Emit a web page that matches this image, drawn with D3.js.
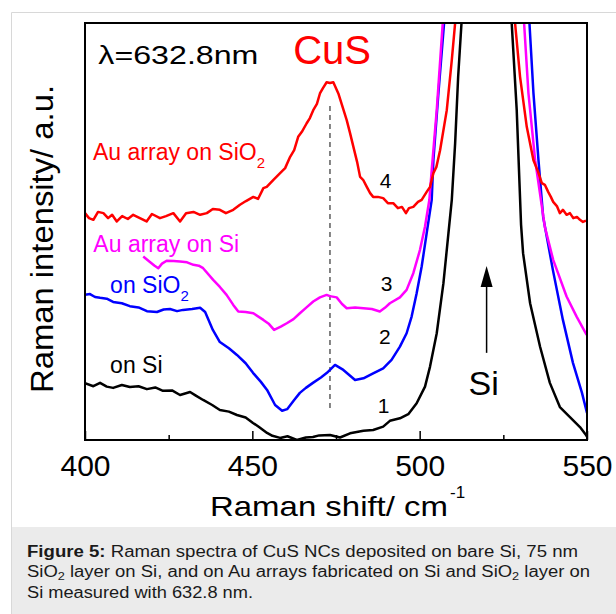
<!DOCTYPE html>
<html>
<meta charset="utf-8">
<script src="https://d3js.org/d3.v7.min.js"></script>
<style>
  body { margin: 0; background: #fff; }
  svg text { font-family: "Liberation Sans", Arial, sans-serif; }
</style>
<body>
<div id="chart"></div>
<script>

// Raman shift (cm-1) / intensity (a.u.)
var onSi = [[400,13.6],[402.5,12.9],[404.5,13.7],[406.5,12.8],[408.4,12.5],[411,13.2],[413.4,12.7],[416,12.9],[418.5,12.2],[421,12.6],[423.3,11.8],[426,11.9],[428.4,10.8],[431.4,11.5],[433,10.7],[435.3,9.6],[438,8.4],[440.3,7.2],[443,6.8],[445.4,6.0],[448,5.4],[450.2,4.1],[452,3.1],[454.4,1.7],[456,1.0],[458.3,0.5],[460.5,0.9],[463.3,0.0],[466,0.6],[468.1,0.7],[470,1.1],[473.2,1.2],[476.2,0.6],[479.2,1.6],[483.2,2.2],[486.1,2.4],[489.1,3.2],[491.1,4.6],[494.1,5.2],[496.6,6.2],[499.1,8.8],[501.6,12.8],[503.1,17.6],[505.1,25.6],[507.1,37.6],[508.6,49.6],[509.6,57.6],[510.6,71.2],[511.5,87.1],[512.5,100],[520,400],[527.5,100],[529.0,79.1],[530.3,51.6],[530.9,44.8],[533.0,32.8],[536.0,22.3],[538.9,13.7],[541.9,7.9],[544.9,5.5],[547.9,3.1],[549.7,1.2],[550,0.8]];

var onSiO2 = [[400,34.8],[401.5,35.0],[403,34.3],[404.5,34.1],[406.5,33.9],[408.4,33.1],[411,32.8],[413.4,32.1],[416,31.8],[418.5,30.9],[421.5,30.7],[423.5,31.3],[425.4,31.4],[427.5,30.9],[429.3,31.2],[432,31.4],[434.4,31.7],[435.9,30.7],[438.2,26.4],[440.3,23.5],[443,22.0],[445.4,20.4],[448,18.4],[450.2,16.1],[452.5,14.0],[454.4,12.0],[456.8,8.4],[458.9,7.0],[460.4,7.4],[462.5,9.6],[464.2,11.3],[466,12.5],[468.1,13.7],[470.5,15.0],[472.3,16.1],[474.7,18.0],[477.2,16.8],[480.7,14.4],[483.2,14.8],[486.1,16.0],[489.1,17.2],[491.6,19.2],[494.1,22.4],[496.1,25.6],[497.6,29.6],[499.1,35.2],[500.6,41.6],[502.1,49.6],[503.6,57.6],[504.1,67.1],[505.6,83.2],[507.3,100],[520,400],[532.8,100],[534.0,83.2],[535.5,67.1],[536.9,53.5],[539.8,40.8],[542.8,28.8],[545.8,18.5],[548.5,11.3],[550,6.5]];

var auOnSi = [[417.4,44.0],[419.4,42.7],[420.8,41.8],[421.9,41.2],[423,42.3],[424.4,43.0],[426.5,42.9],[428.4,42.8],[430.5,42.6],[432.4,42.0],[434,41.8],[435.3,41.2],[438.3,38.4],[440.3,36.7],[442.3,34.8],[444.3,32.4],[445.8,30.8],[448,30.7],[450.3,30.4],[453.3,28.8],[455,27.8],[456.5,26.4],[458.5,27.2],[460.3,28.0],[462.3,29.0],[464.2,30.4],[466.2,31.8],[468.2,33.2],[470.2,34.2],[472.2,34.8],[473.2,34.5],[475.2,34.2],[476.8,32.6],[478.2,31.6],[480.7,31.8],[483.2,31.6],[485.7,31.4],[488.1,30.8],[489.6,31.7],[491.1,32.8],[494.1,34.2],[496.1,36.0],[498.1,40.0],[500.1,45.6],[501.6,51.2],[502.9,57.6],[503.6,64.7],[505.1,79.1],[506.9,100],[520,400],[531.2,100],[532.5,83.2],[534.5,67.1],[537.4,51.1],[539.9,43.2],[543.9,34.4],[546.9,29.6],[549.9,25.2]];

var auOnSiO2 = [[400,54.4],[401.2,53.2],[402.5,52.8],[403.9,54.7],[405.5,54.4],[406.9,53.2],[408.1,54.0],[409.5,52.4],[411.1,53.7],[412.8,53.0],[414.4,54.0],[416.4,53.2],[418.4,52.4],[420.0,54.2],[422.4,53.2],[424.2,53.7],[426.4,54.4],[428.4,52.4],[430.2,54.4],[432.4,54.7],[434.4,54.0],[436.4,54.4],[438.2,55.4],[440.3,55.2],[442.1,54.4],[444.3,55.2],[446.3,56.4],[448.1,57.3],[450.3,58.3],[451.7,57.8],[453.3,60.4],[454.3,60.7],[456.3,62.4],[458.3,64.0],[459.8,65.2],[461.3,67.9],[462.5,69.5],[463.7,72.7],[464.8,73.9],[466.2,75.9],[467.2,77.2],[468.2,79.1],[469.3,80.6],[470.2,83.1],[471.1,84.4],[472.2,85.8],[473.2,85.6],[474.2,85.8],[475.7,83.1],[476.8,80.3],[478.2,76.7],[479.2,73.6],[480.2,70.3],[481.3,66.7],[482.2,63.1],[483.1,62.4],[484.2,60.7],[485.2,59.2],[486.1,58.3],[487.5,58.3],[489.1,58.0],[490.5,56.8],[492.1,56.8],[493.5,55.6],[494.7,55.9],[495.9,54.4],[496.8,55.6],[498.1,55.9],[499.5,57.1],[500.6,57.6],[502.1,59.5],[503.1,60.7],[504.1,64.0],[505.0,65.5],[506.1,69.5],[508.1,79.1],[509.6,91.1],[510.6,100],[520,400],[528.5,100],[530.0,87.1],[532.0,75.1],[534.0,67.1],[535.4,64.3],[536.5,61.6],[537.4,61.2],[538.4,59.5],[539.2,58.3],[539.9,57.1],[541.0,56.1],[541.9,54.4],[542.8,55.2],[543.9,54.0],[544.9,54.4],[545.9,53.2],[547.0,53.5],[547.9,52.8],[548.8,52.3],[549.7,52.6]];

var majorTicks = [400, 450, 500, 550];
var minorTicks = [425, 475, 525];
var curveNumbers = ["1", "2", "3", "4"];
var cusPeak = 473.2;   // dashed marker
var siPeak = 520;      // arrow

var W = 616, H = 614;
var margin = {top: 23, right: 29, bottom: 174, left: 85},
    width = W - margin.left - margin.right,
    height = H - margin.top - margin.bottom;

var svg = d3.select("#chart").append("svg")
    .attr("width", W)
    .attr("height", H);

// page frame + caption panel
svg.append("rect")
    .attr("x", 11).attr("y", 527)
    .attr("width", W - 11).attr("height", H - 527)
    .attr("fill", "#ebebeb");
svg.append("path")
    .attr("d", "M11.5," + H + "V12.5H" + W)
    .attr("fill", "none")
    .attr("stroke", "#d8d8d8");

var g = svg.append("g")
    .attr("transform", "translate(" + margin.left + "," + margin.top + ")");

var x = d3.scaleLinear().domain([400, 550]).range([0, width]);
var y = d3.scaleLinear().domain([0, 100]).range([height, 0]);

g.append("clipPath").attr("id", "plotClip")
  .append("rect").attr("width", width).attr("height", height);

var line = d3.line()
    .x(function(d) { return x(d[0]); })
    .y(function(d) { return y(d[1]); });

var series = [
  {data: onSi, color: "#000000"},
  {data: onSiO2, color: "#0000ff"},
  {data: auOnSi, color: "#ff00ff"},
  {data: auOnSiO2, color: "#ff0000"}
];

// dashed CuS peak marker
g.append("line")
    .attr("x1", x(cusPeak)).attr("x2", x(cusPeak))
    .attr("y1", y(7.7)).attr("y2", y(80.8))
    .attr("stroke", "#333")
    .attr("stroke-width", 1.2)
    .attr("stroke-dasharray", "5,4");

g.append("g").attr("clip-path", "url(#plotClip)")
  .selectAll("path")
  .data(series)
  .enter()
  .append("path")
    .attr("d", function(d) { return line(d.data); })
    .attr("fill", "none")
    .attr("stroke", function(d) { return d.color; })
    .attr("stroke-width", 2.5)
    .attr("stroke-linejoin", "round");

// axes: ticks pointing inward
var xAxis = g.append("g")
    .attr("transform", "translate(0," + height + ")")
    .call(d3.axisBottom(x).tickValues(majorTicks).tickSizeInner(-9).tickSizeOuter(0).tickPadding(15).tickFormat(d3.format("d")));
xAxis.select(".domain").remove();
xAxis.selectAll("line").attr("stroke-width", 1.5);
xAxis.selectAll("text")
    .attr("font-size", "30px")
    .attr("fill", "#000")
    .style("font-family", "'Liberation Sans', Arial, sans-serif");

var xMinor = g.append("g")
    .attr("transform", "translate(0," + height + ")")
    .call(d3.axisBottom(x).tickValues(minorTicks).tickSizeInner(-5).tickSizeOuter(0).tickFormat(""));
xMinor.select(".domain").remove();
xMinor.selectAll("line").attr("stroke-width", 1.5);

// plot frame
g.append("rect")
    .attr("width", width).attr("height", height)
    .attr("fill", "none")
    .attr("stroke", "#000")
    .attr("stroke-width", 2);

// annotations
g.append("text")
    .attr("x", x(404)).attr("y", y(90.1))
    .attr("font-size", "25px")
    .attr("textLength", 160).attr("lengthAdjust", "spacingAndGlyphs")
    .text("λ=632.8nm");

g.append("text")
    .attr("x", x(462.2)).attr("y", y(90.1))
    .attr("font-size", "40px")
    .attr("fill", "#ff0000")
    .text("CuS");

var t1 = g.append("text")
    .attr("x", x(402.4)).attr("y", y(67.1))
    .attr("font-size", "23px")
    .attr("fill", "#ff0000");
t1.append("tspan").text("Au array on SiO");
t1.append("tspan").attr("dy", 8).attr("font-size", "15px").text("2");

g.append("text")
    .attr("x", x(402.5)).attr("y", y(45.2))
    .attr("font-size", "23px")
    .attr("fill", "#ff00ff")
    .text("Au array on Si");

var t2 = g.append("text")
    .attr("x", x(407.5)).attr("y", y(35.2))
    .attr("font-size", "23px")
    .attr("fill", "#0000ff");
t2.append("tspan").text("on SiO");
t2.append("tspan").attr("dy", 8).attr("font-size", "15px").text("2");

g.append("text")
    .attr("x", x(407.5)).attr("y", y(16.0))
    .attr("font-size", "23px")
    .text("on Si");

var numberPos = [[489.2, 6.5], [489.6, 23.0], [490.1, 35.8], [489.8, 60.4]];
g.selectAll(".num")
  .data(curveNumbers)
  .enter()
  .append("text")
    .attr("class", "num")
    .attr("x", function(d, i) { return x(numberPos[i][0]); })
    .attr("y", function(d, i) { return y(numberPos[i][1]); })
    .attr("text-anchor", "middle")
    .attr("font-size", "21px")
    .text(function(d) { return d; });

// Si arrow
g.append("line")
    .attr("x1", x(siPeak)).attr("x2", x(siPeak))
    .attr("y1", y(20.9)).attr("y2", y(37))
    .attr("stroke", "#000").attr("stroke-width", 1.5);
g.append("path")
    .attr("d", "M" + x(siPeak) + "," + y(41.7) +
               "L" + (x(siPeak) - 6) + "," + y(36.7) +
               "L" + (x(siPeak) + 6) + "," + y(36.7) + "Z")
    .attr("fill", "#000");
g.append("text")
    .attr("x", x(519.1)).attr("y", y(10.8))
    .attr("text-anchor", "middle")
    .attr("font-size", "34px")
    .text("Si");

// axis titles
svg.append("text")
    .attr("transform", "translate(53,239) rotate(-90)")
    .attr("text-anchor", "middle")
    .attr("font-size", "31px")
    .attr("textLength", 308).attr("lengthAdjust", "spacingAndGlyphs")
    .text("Raman intensity/ a.u.");

svg.append("text")
    .attr("x", 210).attr("y", 516)
    .attr("font-size", "28px")
    .attr("textLength", 238).attr("lengthAdjust", "spacingAndGlyphs")
    .text("Raman shift/ cm");
svg.append("text")
    .attr("x", 450).attr("y", 498)
    .attr("font-size", "17px")
    .text("-1");

// caption
var cap = svg.append("g").attr("fill", "#1a1a1a").attr("font-size", "16px");
var c1 = cap.append("text").attr("x", 27).attr("y", 557)
    .attr("textLength", 551).attr("lengthAdjust", "spacingAndGlyphs");
c1.append("tspan").attr("font-weight", "bold").text("Figure 5:");
c1.append("tspan").text(" Raman spectra of CuS NCs deposited on bare Si, 75 nm");

var c2 = cap.append("text").attr("x", 27).attr("y", 577)
    .attr("textLength", 563).attr("lengthAdjust", "spacingAndGlyphs");
c2.append("tspan").text("SiO");
c2.append("tspan").attr("dy", 3).attr("font-size", "11px").text("2");
c2.append("tspan").attr("dy", -3).text(" layer on Si, and on Au arrays fabricated on Si and SiO");
c2.append("tspan").attr("dy", 3).attr("font-size", "11px").text("2");
c2.append("tspan").attr("dy", -3).text(" layer on");

cap.append("text").attr("x", 27).attr("y", 598)
    .attr("textLength", 226).attr("lengthAdjust", "spacingAndGlyphs")
    .text("Si measured with 632.8 nm.");

</script>
</body>
</html>
